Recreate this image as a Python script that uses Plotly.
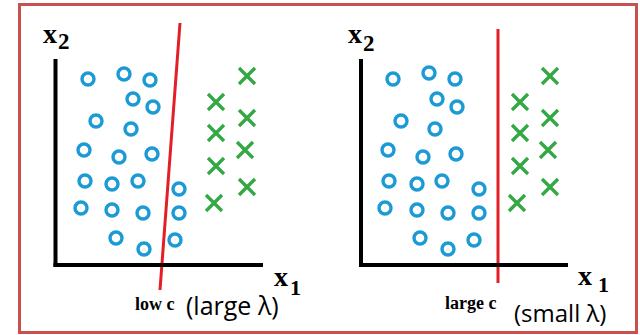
import plotly.graph_objects as go

# ---- data (feature space, origin at the axes corner, x1 right, x2 up) ----
left_circle_x1 = [32.5, 68.5, 94.5, 77.5, 97.5, 40.5, 75.5, 28.5, 63.5, 96.5, 29.5, 56.5, 82.5, 123.5, 25.5, 56.5, 87.5, 123.5, 60.5, 88.5, 119.5]
left_circle_x2 = [186, 191, 185, 166, 158, 144, 136, 115, 108, 111, 84, 81, 84, 76, 57, 55, 52, 52, 27, 16, 25]
left_cross_x1 = [191.5, 160.5, 191.5, 160.5, 189.5, 160.5, 191.5, 158.5]
left_cross_x2 = [189, 163, 147, 132, 115, 99, 78, 62]
left_boundary_x1 = [124.5, 104.5]
left_boundary_x2 = [242, -25]

right_circle_x1 = [32, 68, 94, 76, 96, 40, 74, 27, 62, 95, 28, 56, 81, 118, 24, 56, 87, 118, 59, 87, 113]
right_circle_x2 = [186, 192, 186, 166, 158, 144, 136, 115, 108, 111, 84, 81, 84, 76, 57, 55, 52, 52, 27, 16, 25]
right_cross_x1 = [189, 159, 189, 159, 187, 159, 189, 156]
right_cross_x2 = [189, 163, 147, 132, 115, 99, 78, 62]
right_boundary_x1 = [137, 137]
right_boundary_x2 = [236, -18]

panel_labels = ["low c", "(large λ)", "large c", "(small λ)"]

BLUE = "#1b9ad6"
GREEN = "#35a845"
RED = "#e41e26"
BORDER = "#c9504f"

fig = go.Figure()

def add_panel(xa, ya, cx, cy, kx, ky, bx, by):
    fig.add_trace(go.Scatter(x=cx, y=cy, mode="markers", xaxis=xa, yaxis=ya,
                             marker=dict(symbol="circle-open", size=12, color=BLUE,
                                         line=dict(width=3.4, color=BLUE)),
                             showlegend=False, hoverinfo="skip"))
    fig.add_trace(go.Scatter(x=kx, y=ky, mode="markers", xaxis=xa, yaxis=ya,
                             marker=dict(symbol="x-thin-open", size=16, color=GREEN,
                                         line=dict(width=3.4, color=GREEN)),
                             showlegend=False, hoverinfo="skip"))
    fig.add_trace(go.Scatter(x=bx, y=by, mode="lines", xaxis=xa, yaxis=ya,
                             line=dict(color=RED, width=3),
                             showlegend=False, hoverinfo="skip"))

add_panel("x", "y", left_circle_x1, left_circle_x2, left_cross_x1, left_cross_x2,
          left_boundary_x1, left_boundary_x2)
add_panel("x2", "y2", right_circle_x1, right_circle_x2, right_cross_x1, right_cross_x2,
          right_boundary_x1, right_boundary_x2)

W, H = 640, 335
ax_common = dict(visible=False, showgrid=False, zeroline=False, domain=[0, 1], fixedrange=True)
fig.update_layout(
    width=W, height=H, margin=dict(l=0, r=0, t=0, b=0), autosize=False,
    paper_bgcolor="white", plot_bgcolor="white",
    xaxis=dict(range=[-55.5, W - 55.5], **ax_common),
    yaxis=dict(range=[-70, 265], **ax_common),
    xaxis2=dict(range=[-361, W - 361], overlaying="x", **ax_common),
    yaxis2=dict(range=[-70, 265], overlaying="y", **ax_common),
)

# axes lines of each sketch
for xr, yr, xlen in [("x", "y", 207.5), ("x2", "y2", 207)]:
    fig.add_shape(type="line", xref=xr, yref=yr, x0=-2, x1=xlen, y0=0, y1=0,
                  line=dict(color="black", width=4))
    fig.add_shape(type="line", xref=xr, yref=yr, x0=0, x1=0, y0=-2, y1=206,
                  line=dict(color="black", width=4))

# border
fig.add_shape(type="rect", xref="paper", yref="paper",
              x0=19.5 / W, x1=636.5 / W, y0=1 - 332.5 / H, y1=1 - 4.5 / H,
              line=dict(color=BORDER, width=3), fillcolor="rgba(0,0,0,0)")

def px(x, y):
    return x / W, 1 - y / H

def label(text, x, y, size, family, xanchor="left", bold=False):
    xx, yy = px(x, y)
    fig.add_annotation(text=("<b>%s</b>" % text) if bold else text,
                       x=xx, y=yy, xref="paper", yref="paper",
                       xanchor=xanchor, yanchor="middle", showarrow=False,
                       font=dict(size=size, family=family, color="black"))

SERIF = "Liberation Serif"
SANS = "Open Sans"
# axis titles
for (xx, yy, sx, sy) in [(41, 33, 56, 42), (346, 34, 361, 43)]:
    label("x", xx, yy, 28, SERIF, bold=True)
    label("2", sx, sy, 23, SERIF, bold=True)
for (xx, yy, sx, sy) in [(272, 276, 288, 287), (576, 275, 596, 284)]:
    label("x", xx, yy, 28, SERIF, bold=True)
    label("1", sx, sy, 22, SERIF, bold=True)

label(panel_labels[0], 133, 304, 18, SERIF, bold=True)
label(panel_labels[1], 184, 305, 25, SANS)
label(panel_labels[2], 443, 303, 18, SERIF, bold=True)
label(panel_labels[3], 512, 312, 24, SANS)

fig.write_html("out.html", config={"displayModeBar": False},
               post_script="document.body.style.margin='0';document.body.style.overflow='hidden';")
